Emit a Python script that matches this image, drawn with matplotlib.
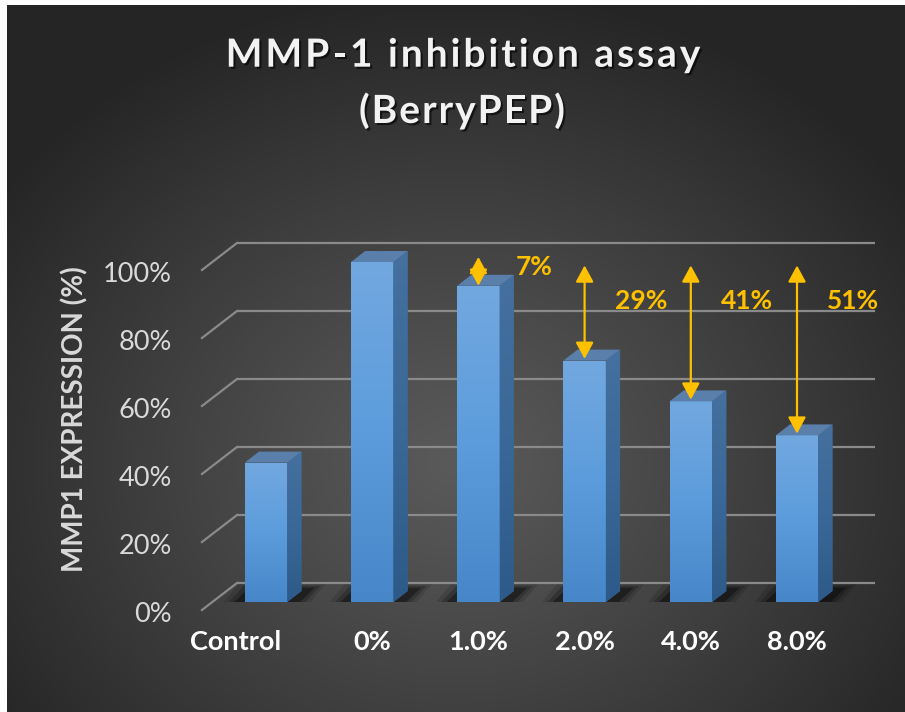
import matplotlib
matplotlib.use('Agg')
import matplotlib.pyplot as plt
import matplotlib.patheffects as pe
from matplotlib.patches import Polygon
from matplotlib.colors import LinearSegmentedColormap
import numpy as np

# data
categories = ['Control', '0%', '1.0%', '2.0%', '4.0%', '8.0%']
expression = [41, 100, 93, 71, 59, 49]
inhibition_labels = ['7%', '29%', '41%', '51%']   # for the 1.0% .. 8.0% bars
yticks = [0, 20, 40, 60, 80, 100]
ytick_labels = ['0%', '20%', '40%', '60%', '80%', '100%']
title_lines = ['MMP-1 inhibition assay', '(BerryPEP)']

plt.rcParams['font.family'] = ['Lato', 'DejaVu Sans']

W, H = 905, 712
fig = plt.figure(figsize=(W / 100, H / 100), dpi=100, facecolor='white')
renderer = fig.canvas.get_renderer()

# dark radial background
bg = fig.add_axes([0, 0, 1, 1])
bg.set_xlim(0, W)
bg.set_ylim(H, 0)
bg.axis('off')
yy, xx = np.mgrid[0:H, 0:W]
d = np.clip(np.sqrt(((xx - 450) / 560.0) ** 2 + ((yy - 460) / 480.0) ** 2), 0, 1)
g = (0x5a - (0x5a - 0x25) * d ** 1.1) / 255.0
bg.imshow(np.dstack([g, g, g]), extent=(7, W, H, 5), aspect='auto', interpolation='bilinear')

# plot axes: pixel layout of the excel 3d chart
X0, DX = 266, 106.2      # px of first bar centre, px per category
Y0, PX = 602, 3.4        # px of 0% at bar fronts, px per percent
left, right, top, bottom = 200, 880, 228, 618
ax = fig.add_axes([left / W, 1 - bottom / H, (right - left) / W, (bottom - top) / H])
xlim = ((left - X0) / DX, (right - X0) / DX)
ylim = ((Y0 - bottom) / PX, (Y0 - top) / PX)
ax.axis('off')

# depth offsets (category units, percent units)
back_dx, back_dy = 0.232, 5.59     # bar front plane -> back wall
front_dx, front_dy = -0.098, -2.35 # bar front plane -> floor front
bar_dx, bar_dy = 0.134, 3.23       # bar depth
wall_left, wall_right = -0.505, 5.734

grid_col = '#8a8a8a'
for t in yticks:
    ax.plot([wall_left + back_dx, wall_right], [t + back_dy, t + back_dy],
            color=grid_col, lw=1.6, zorder=1, solid_capstyle='butt')
    ax.plot([wall_left + front_dx, wall_left + back_dx], [t + front_dy, t + back_dy],
            color=grid_col, lw=1.6, zorder=1)
for t, lab in zip(yticks, ytick_labels):
    ax.text(-0.885, t - 5.8, lab, ha='right', va='baseline', fontsize=19.5, color='#d9d9d9')

x = np.arange(len(categories))
bw = 0.4

# soft floor shadows behind the bars
for xi in x:
    for k, a in [(0.0, 0.35), (0.05, 0.2), (0.1, 0.12)]:
        x0, x1 = xi - bw / 2 - 0.1 - k, xi + bw / 2 + 0.12 + k
        ax.add_patch(Polygon([(x0, 0), (x1, 0), (x1 + 0.14, 4.2 + k * 10), (x0 + 0.14, 4.2 + k * 10)],
                             closed=True, facecolor='black', edgecolor='none', alpha=a, zorder=2))

front_cmap = LinearSegmentedColormap.from_list('front', ['#4787c9', '#5c9cdc', '#72a8e0'])
side_cmap = LinearSegmentedColormap.from_list('side', ['#2d5a88', '#3a6898', '#45709f'])
bars = ax.bar(x, expression, width=bw, color='#5b9bd5', zorder=3)
grad = np.linspace(0, 1, 256).reshape(-1, 1)
for b in bars:
    bx0, bx1, h = b.get_x(), b.get_x() + b.get_width(), b.get_height()
    im = ax.imshow(grad, extent=(bx0, bx1, 0, h), origin='lower', cmap=front_cmap,
                   aspect='auto', zorder=3)
    im.set_clip_path(b)
    side = Polygon([(bx1, 0), (bx1 + bar_dx, bar_dy), (bx1 + bar_dx, h + bar_dy), (bx1, h)],
                   closed=True, facecolor='#386592', edgecolor='none', zorder=3)
    ax.add_patch(side)
    im2 = ax.imshow(grad, extent=(bx1, bx1 + bar_dx, 0, h + bar_dy), origin='lower',
                    cmap=side_cmap, aspect='auto', zorder=3.1)
    im2.set_clip_path(side)
    ax.add_patch(Polygon([(bx0, h), (bx1, h), (bx1 + bar_dx, h + bar_dy), (bx0 + bar_dx, h + bar_dy)],
                         closed=True, facecolor='#5a7fab', edgecolor='none', zorder=3.2))

# category labels
for xi, cat in zip(x, categories):
    shift = -0.29 if cat == 'Control' else 0
    ax.text(xi + shift, -14.1, cat, ha='center', va='baseline', fontsize=19.5,
            fontweight='bold', color='white')

# inhibition arrows relative to the 0% bar
gold = '#ffc000'
ref = expression[1]
for xi, lab in zip(x[2:], inhibition_labels):
    val = expression[xi]
    if ref - val < 10:
        lo, hi = val, val + 8.5
    else:
        lo, hi = val + 0.5, ref - 1
    ax.annotate('', xy=(xi, lo), xytext=(xi, hi),
                arrowprops=dict(arrowstyle='<|-|>,head_length=0.5,head_width=0.27',
                                mutation_scale=20, color=gold, lw=1.6,
                                shrinkA=0, shrinkB=0), zorder=5)
    ty = 96.2 if val > 85 else 86.2
    ax.text(xi + 0.53, ty, lab, ha='center', va='baseline', fontsize=19,
            fontweight='bold', color=gold, zorder=5)

ax.set_xlim(xlim)
ax.set_ylim(ylim)


def text_width(s, **kw):
    t = fig.text(0, 0, s, **kw)
    w = t.get_window_extent(renderer).width
    t.remove()
    return w


def spaced_title(s, cx, baseline, spacing, **kw):
    # excel titles use expanded character spacing; place glyphs one by one
    base = text_width('xx', **kw)
    adv = [text_width('x' + c + 'x', **kw) - base for c in s]
    total = sum(adv) + spacing * (len(s) - 1)
    px = cx - total / 2
    for c, a in zip(s, adv):
        if c != ' ':
            fig.text(px / W, 1 - baseline / H, c, ha='left', va='baseline', **kw)
        px += a + spacing


shadow = [pe.withSimplePatchShadow(offset=(1.5, -1.5), shadow_rgbFace='black', alpha=0.6)]
title_kw = dict(fontsize=28, fontweight='bold', color='#f2f2f2', path_effects=shadow)
spaced_title(title_lines[0], 463, 66.7, 3.0, **title_kw)
spaced_title(title_lines[1], 462, 123, 2.0, **title_kw)

fig.text(75 / W, 1 - 419 / H, 'MMP1 EXPRESSION (%)', rotation=90, ha='center', va='center',
         fontsize=20, fontweight='bold', color='#d9d9d9')

fig.savefig('out.png', dpi=100, facecolor='white')
